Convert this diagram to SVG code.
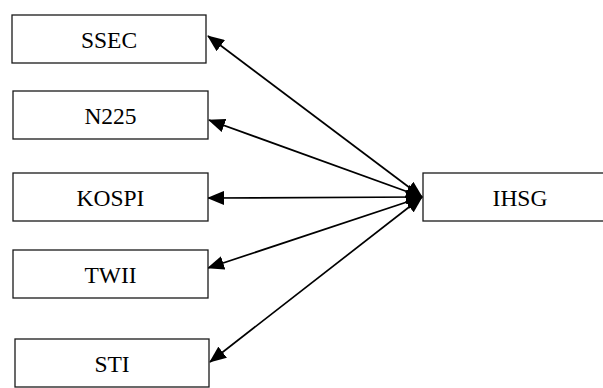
<svg xmlns="http://www.w3.org/2000/svg" width="603" height="388" viewBox="0 0 603 388">
<style>
.box{fill:#fff;stroke:#1a1a1a;stroke-width:1.3}
.lbl{font-family:"Liberation Serif","Times New Roman",serif;font-size:23.5px;fill:#000;text-anchor:middle}
.edge{stroke:#000;stroke-width:1.7;fill:none;marker-start:url(#ah);marker-end:url(#ah)}
</style>
<defs>
<marker id="ah" markerUnits="userSpaceOnUse" markerWidth="17" markerHeight="14" viewBox="0 0 17 14" refX="16" refY="7" orient="auto-start-reverse">
<path d="M0,0 L17,7 L0,14 Z" fill="#000"/>
</marker>
</defs>
<g id="connectors">
<line class="edge" x1="422" y1="197" x2="208" y2="36"/>
<line class="edge" x1="422" y1="197" x2="209" y2="120"/>
<line class="edge" x1="422" y1="197" x2="208" y2="198"/>
<line class="edge" x1="422" y1="197" x2="208" y2="268"/>
<line class="edge" x1="422" y1="197" x2="210" y2="362"/>
</g>
<g id="SSEC"><rect class="box" x="12" y="15" width="194" height="48"/><text class="lbl" x="109" y="48">SSEC</text></g>
<g id="N225"><rect class="box" x="13" y="91" width="195" height="48"/><text class="lbl" x="110.5" y="124">N225</text></g>
<g id="KOSPI"><rect class="box" x="13" y="173" width="195" height="48"/><text class="lbl" x="110.5" y="206">KOSPI</text></g>
<g id="TWII"><rect class="box" x="13" y="250" width="195" height="48"/><text class="lbl" x="110.5" y="283">TWII</text></g>
<g id="STI"><rect class="box" x="15" y="339" width="194" height="48"/><text class="lbl" x="112" y="372">STI</text></g>
<g id="IHSG"><rect class="box" x="423" y="173" width="182" height="48"/><text class="lbl" x="520" y="206">IHSG</text></g>
</svg>
